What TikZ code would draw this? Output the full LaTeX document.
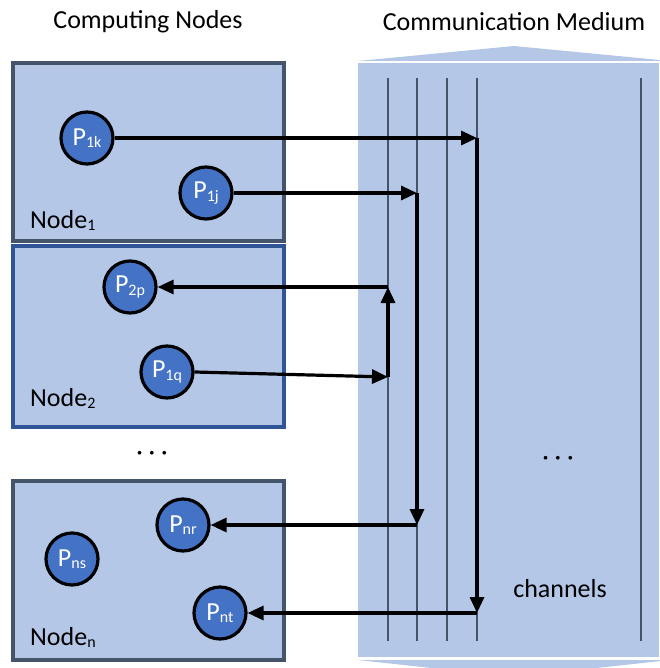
\documentclass[tikz,border=0pt]{standalone}
\usepackage{fontspec}
\setmainfont{Carlito}
\usetikzlibrary{arrows.meta}
\definecolor{paleblue}{HTML}{B4C7E7}
\definecolor{procblue}{HTML}{4472C4}
\definecolor{slate}{HTML}{44546A}
\definecolor{deepblue}{HTML}{2F5597}
\newcommand\lowsub[1]{\raisebox{-2.5pt}{\fontsize{16}{16}\selectfont #1}}
\tikzset{
  nodebox/.style={draw=slate, line width=3.2pt, fill=paleblue},
  proc/.style={circle, draw=black, line width=3.2pt, fill=procblue, minimum size=52pt,
    inner sep=0pt, text=white, font=\fontsize{26}{26}\selectfont},
  msg/.style={draw=black, line width=3.2pt, -{Triangle[length=16pt,width=14pt]}},
  chan/.style={draw=slate, line width=1.4pt},
  lbl/.style={font=\fontsize{26}{26}\selectfont, inner sep=0pt},
}
\begin{document}
\begin{tikzpicture}[x=1pt,y=-1pt]
\useasboundingbox (0,0) rectangle (659,668);

% titles
\node[lbl] (tcomp) at (148,22) {Computing Nodes};
\node[lbl] (tcomm) at (514,22) {Communication Medium};

% communication medium: body with bevelled top and bottom faces
\fill[paleblue] (358,61) -- (514,46) -- (670,61) -- cycle;
\fill[paleblue] (358,63) rectangle (659,657);
\fill[paleblue] (358,660) -- (670,660) -- (514,677) -- cycle;
\foreach \x in {388,417,447,477,641}
  \draw[chan] (\x,78) -- (\x,641);

% computing nodes
\draw[nodebox] (13,63) rectangle (284,241);
\draw[nodebox, draw=deepblue] (13,246) rectangle (284,427);
\draw[nodebox] (13,481) rectangle (284,660);
\node[lbl, anchor=base west] (n1) at (30,228) {Node\lowsub{1}};
\node[lbl, anchor=base west] (n2) at (30,406) {Node\lowsub{2}};
\node[lbl, anchor=base west] (nn) at (30,645) {Node\lowsub{n}};

% processes
\node[proc] (p1k) at (87,138) {P\lowsub{1k}};
\node[proc] (p1j) at (206,193) {P\lowsub{1j}};
\node[proc] (p2p) at (130,287) {P\lowsub{2p}};
\node[proc] (p1q) at (167,372) {P\lowsub{1q}};
\node[proc] (pnr) at (183,525) {P\lowsub{nr}};
\node[proc] (pns) at (72,559) {P\lowsub{ns}};
\node[proc] (pnt) at (220,613) {P\lowsub{nt}};

% points where messages enter and leave the channels
\coordinate (c1in) at (477,138);
\coordinate (c1out) at (477,613);
\coordinate (c2in) at (417,193);
\coordinate (c2out) at (417,525);
\coordinate (c3in) at (388,377);
\coordinate (c3out) at (388,287);

% messages
\draw[msg] (p1k) -- (c1in);
\draw[msg] (c1in) -- (c1out);
\draw[msg] (c1out) -- (pnt);
\draw[msg] (p1j) -- (c2in);
\draw[msg] (c2in) -- (c2out);
\draw[msg] (c2out) -- (pnr);
\draw[msg] (p1q.east) -- (c3in);
\draw[msg] (c3in) -- (c3out);
\draw[msg] (c3out) -- (p2p);

% ellipses and channel label
\node[lbl] (dl) at (152,456) {· · ·};
\node[lbl] (dr) at (558,461) {· · ·};
\node[lbl] (ch) at (560,589) {channels};
\end{tikzpicture}
\end{document}
